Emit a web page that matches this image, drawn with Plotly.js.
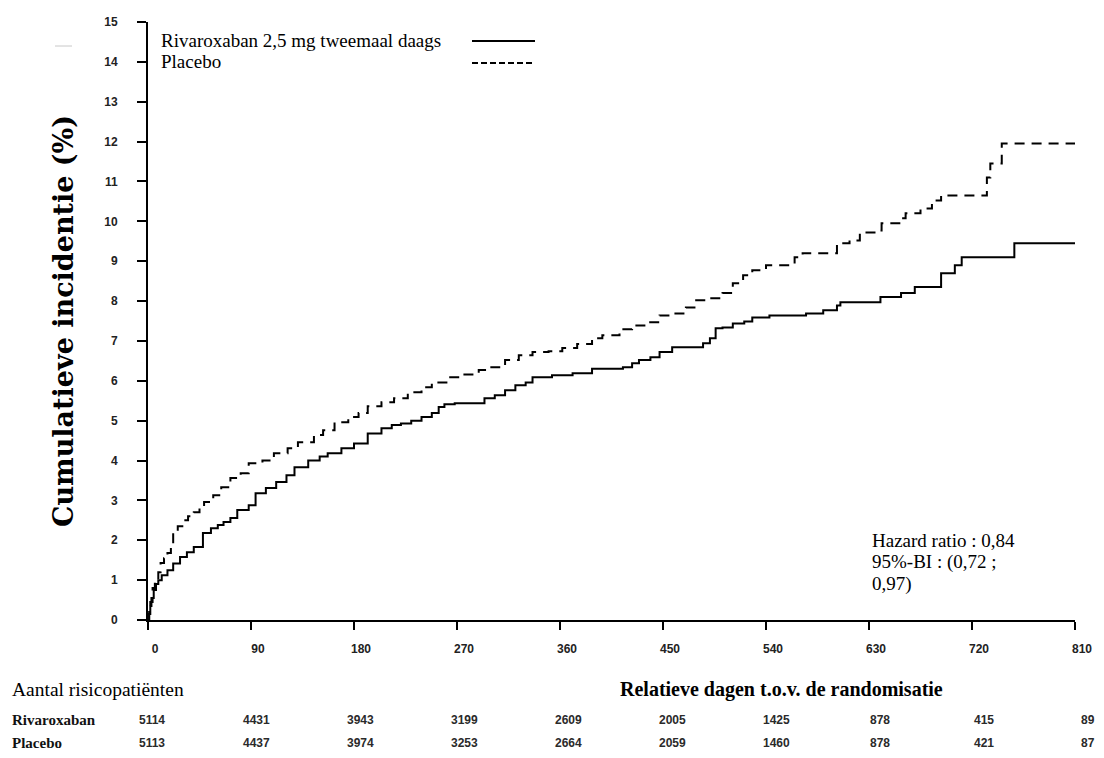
<!DOCTYPE html>
<html>
<head>
<meta charset="utf-8">
<script src="https://cdn.plot.ly/plotly-3.0.1.min.js"></script>
<style>html,body{margin:0;padding:0;background:#fff;}#chart{width:1104px;height:758px;}</style>
</head>
<body>
<div id="chart"></div>
<script>
// ---- data ----
const rivaDays = [0,1,2,3,5,7,9,12,17,22,28,34,40,48,55,61,66,72,78,88,94,103,112,121,128,140,150,157,169,180,192,204,213,221,230,239,248,254,259,268,294,303,312,321,330,336,353,371,388,415,423,429,439,447,458,485,491,496,502,511,521,528,543,575,590,602,605,640,658,670,693,705,711,757,810];
const rivaPct  = [0,0.15,0.35,0.55,0.75,0.9,1.0,1.12,1.25,1.42,1.58,1.7,1.83,2.18,2.3,2.38,2.46,2.56,2.76,2.88,3.18,3.31,3.46,3.63,3.83,4.0,4.1,4.18,4.31,4.43,4.68,4.81,4.89,4.93,5.0,5.09,5.19,5.34,5.41,5.44,5.56,5.64,5.76,5.89,5.96,6.09,6.14,6.19,6.3,6.34,6.44,6.52,6.59,6.72,6.84,6.94,7.07,7.32,7.34,7.44,7.49,7.59,7.64,7.69,7.77,7.89,7.97,8.1,8.2,8.35,8.7,8.9,9.1,9.45,9.45];

const placDays = [0,1,2,4,6,9,11,14,17,20,22,26,31,35,40,45,49,57,64,72,81,88,100,110,122,131,145,153,163,175,184,192,204,215,227,239,248,262,274,289,300,312,324,336,350,362,375,388,397,412,423,435,447,458,470,479,491,502,511,520,528,540,565,572,602,613,622,637,641,658,662,675,685,693,733,736,746,810];
const placPct  = [0,0.2,0.45,0.8,1.0,1.2,1.43,1.55,1.68,1.9,2.18,2.35,2.5,2.6,2.7,2.85,2.96,3.13,3.33,3.56,3.68,3.93,4.0,4.18,4.31,4.46,4.64,4.76,4.96,5.09,5.19,5.36,5.46,5.56,5.71,5.84,5.96,6.09,6.16,6.27,6.34,6.52,6.64,6.72,6.74,6.82,6.92,7.07,7.14,7.29,7.39,7.47,7.64,7.69,7.84,8.02,8.07,8.2,8.45,8.65,8.77,8.9,9.1,9.2,9.45,9.52,9.72,9.77,9.95,10.08,10.2,10.32,10.52,10.65,11.1,11.45,11.95,11.95];

const xTicks = [0,90,180,270,360,450,540,630,720,810];
const yTicks = [0,1,2,3,4,5,6,7,8,9,10,11,12,13,14,15];
const riskRiva = [5114,4431,3943,3199,2609,2005,1425,878,415,89];
const riskPlac = [5113,4437,3974,3253,2664,2059,1460,878,421,87];
const seriesNames = ['Rivaroxaban 2,5 mg tweemaal daags','Placebo'];
const riskRowNames = ['Rivaroxaban','Placebo'];
const hazardLines = ['Hazard ratio : 0,84','95%-BI : (0,72 ;','0,97)'];

// ---- chart ----
const serif = 'Liberation Serif, Times New Roman, serif';
const tickFont = {family:'Liberation Sans, Arial, sans-serif', size:12, color:'#222', weight:'bold'};
const numFont = {family:'Liberation Sans, Arial, sans-serif', size:12, color:'#2a2a2a', weight:'bold'};
const L = 148, R = 1075;
const W = R - L;   // plot width in px
const px = p => (p - L) / W;  // page pixel -> paper fraction (text/legend placement only)

const traces = [
  {x: rivaDays, y: rivaPct, type:'scatter', mode:'lines', line:{shape:'hv', color:'#000', width:2}, name: seriesNames[0], showlegend:false, hoverinfo:'skip'},
  {x: placDays, y: placPct, type:'scatter', mode:'lines', line:{shape:'hv', color:'#000', width:2, dash:'10px,7px'}, name: seriesNames[1], showlegend:false, hoverinfo:'skip'}
];

const annotations = [
  {xref:'paper', yref:'paper', x:px(63), y:0.5, text:'<b>Cumulatieve incidentie (%)</b>', textangle:-90, showarrow:false, font:{family:'DejaVu Serif, serif', size:27, color:'#000'}, xanchor:'center', yanchor:'middle'},
  {xref:'paper', yref:'paper', x:px(159), y:1.0, yshift:-18, text: seriesNames[0], showarrow:false, xanchor:'left', yanchor:'middle', font:{family:serif, size:19, color:'#000'}},
  {xref:'paper', yref:'paper', x:px(159), y:1.0, yshift:-39, text: seriesNames[1], showarrow:false, xanchor:'left', yanchor:'middle', font:{family:serif, size:19, color:'#000'}},
  {xref:'paper', yref:'paper', x:px(10), y:0, yshift:-69, text:'Aantal risicopatiënten', showarrow:false, xanchor:'left', yanchor:'middle', font:{family:serif, size:19.5, color:'#000'}},
  {xref:'paper', yref:'paper', x:px(618), y:0, yshift:-69, text:'<b>Relatieve dagen t.o.v. de randomisatie</b>', showarrow:false, xanchor:'left', yanchor:'middle', font:{family:serif, size:20, color:'#000'}},
  {xref:'paper', yref:'paper', x:px(10), y:0, yshift:-100, text:'<b>'+riskRowNames[0]+'</b>', showarrow:false, xanchor:'left', yanchor:'middle', font:{family:serif, size:15, color:'#111'}},
  {xref:'paper', yref:'paper', x:px(10), y:0, yshift:-123, text:'<b>'+riskRowNames[1]+'</b>', showarrow:false, xanchor:'left', yanchor:'middle', font:{family:serif, size:15, color:'#111'}}
];
hazardLines.forEach((t,i)=>{
  annotations.push({xref:'paper', yref:'paper', x:px(870), y:0, yshift:80 - 22*i, text:t, showarrow:false, xanchor:'left', yanchor:'middle', font:{family:serif, size:19, color:'#000'}});
});
xTicks.forEach((d,i)=>{
  const sh = 4 + i;  // labels drift slightly right of ticks in the reference
  annotations.push({xref:'x', yref:'paper', x:d, xshift:sh, y:0, yshift:-100, text:String(riskRiva[i]), showarrow:false, xanchor:'center', yanchor:'middle', font:numFont});
  annotations.push({xref:'x', yref:'paper', x:d, xshift:sh, y:0, yshift:-123, text:String(riskPlac[i]), showarrow:false, xanchor:'center', yanchor:'middle', font:numFont});
});

const shapes = [
  {type:'line', xref:'paper', yref:'paper', ysizemode:'pixel', yanchor:1, x0:px(472), x1:px(535), y0:-19, y1:-19, line:{color:'#000', width:2}},
  {type:'line', xref:'paper', yref:'paper', ysizemode:'pixel', yanchor:1, x0:px(472), x1:px(535), y0:-41, y1:-41, line:{color:'#000', width:2, dash:'6px,3px'}},
  {type:'line', xref:'paper', yref:'paper', ysizemode:'pixel', yanchor:1, x0:px(55), x1:px(72), y0:-24, y1:-24, line:{color:'#c8c8c8', width:1}}
];

const layout = {
  width:1104, height:758,
  margin:{l:L, r:1104-R, t:22, b:138},
  paper_bgcolor:'#fff', plot_bgcolor:'#fff',
  showlegend:false,
  xaxis:{range:[0,810], tickvals:xTicks, ticktext:xTicks.map(String), showgrid:false, zeroline:false, showline:true, linecolor:'#000', linewidth:2, ticks:'outside', ticklen:8, tickwidth:2, tickcolor:'#000', tickfont:tickFont, ticklabelstandoff:9, ticklabelshift:7, fixedrange:true},
  yaxis:{range:[0,15], tickvals:yTicks, ticktext:yTicks.map(String), showgrid:false, zeroline:false, showline:true, linecolor:'#000', linewidth:2, ticks:'outside', ticklen:9, tickwidth:2, tickcolor:'#000', tickfont:tickFont, ticklabelstandoff:17, fixedrange:true},
  annotations: annotations,
  shapes: shapes
};

Plotly.newPlot('chart', traces, layout, {staticPlot:true, displayModeBar:false});
</script>
</body>
</html>
